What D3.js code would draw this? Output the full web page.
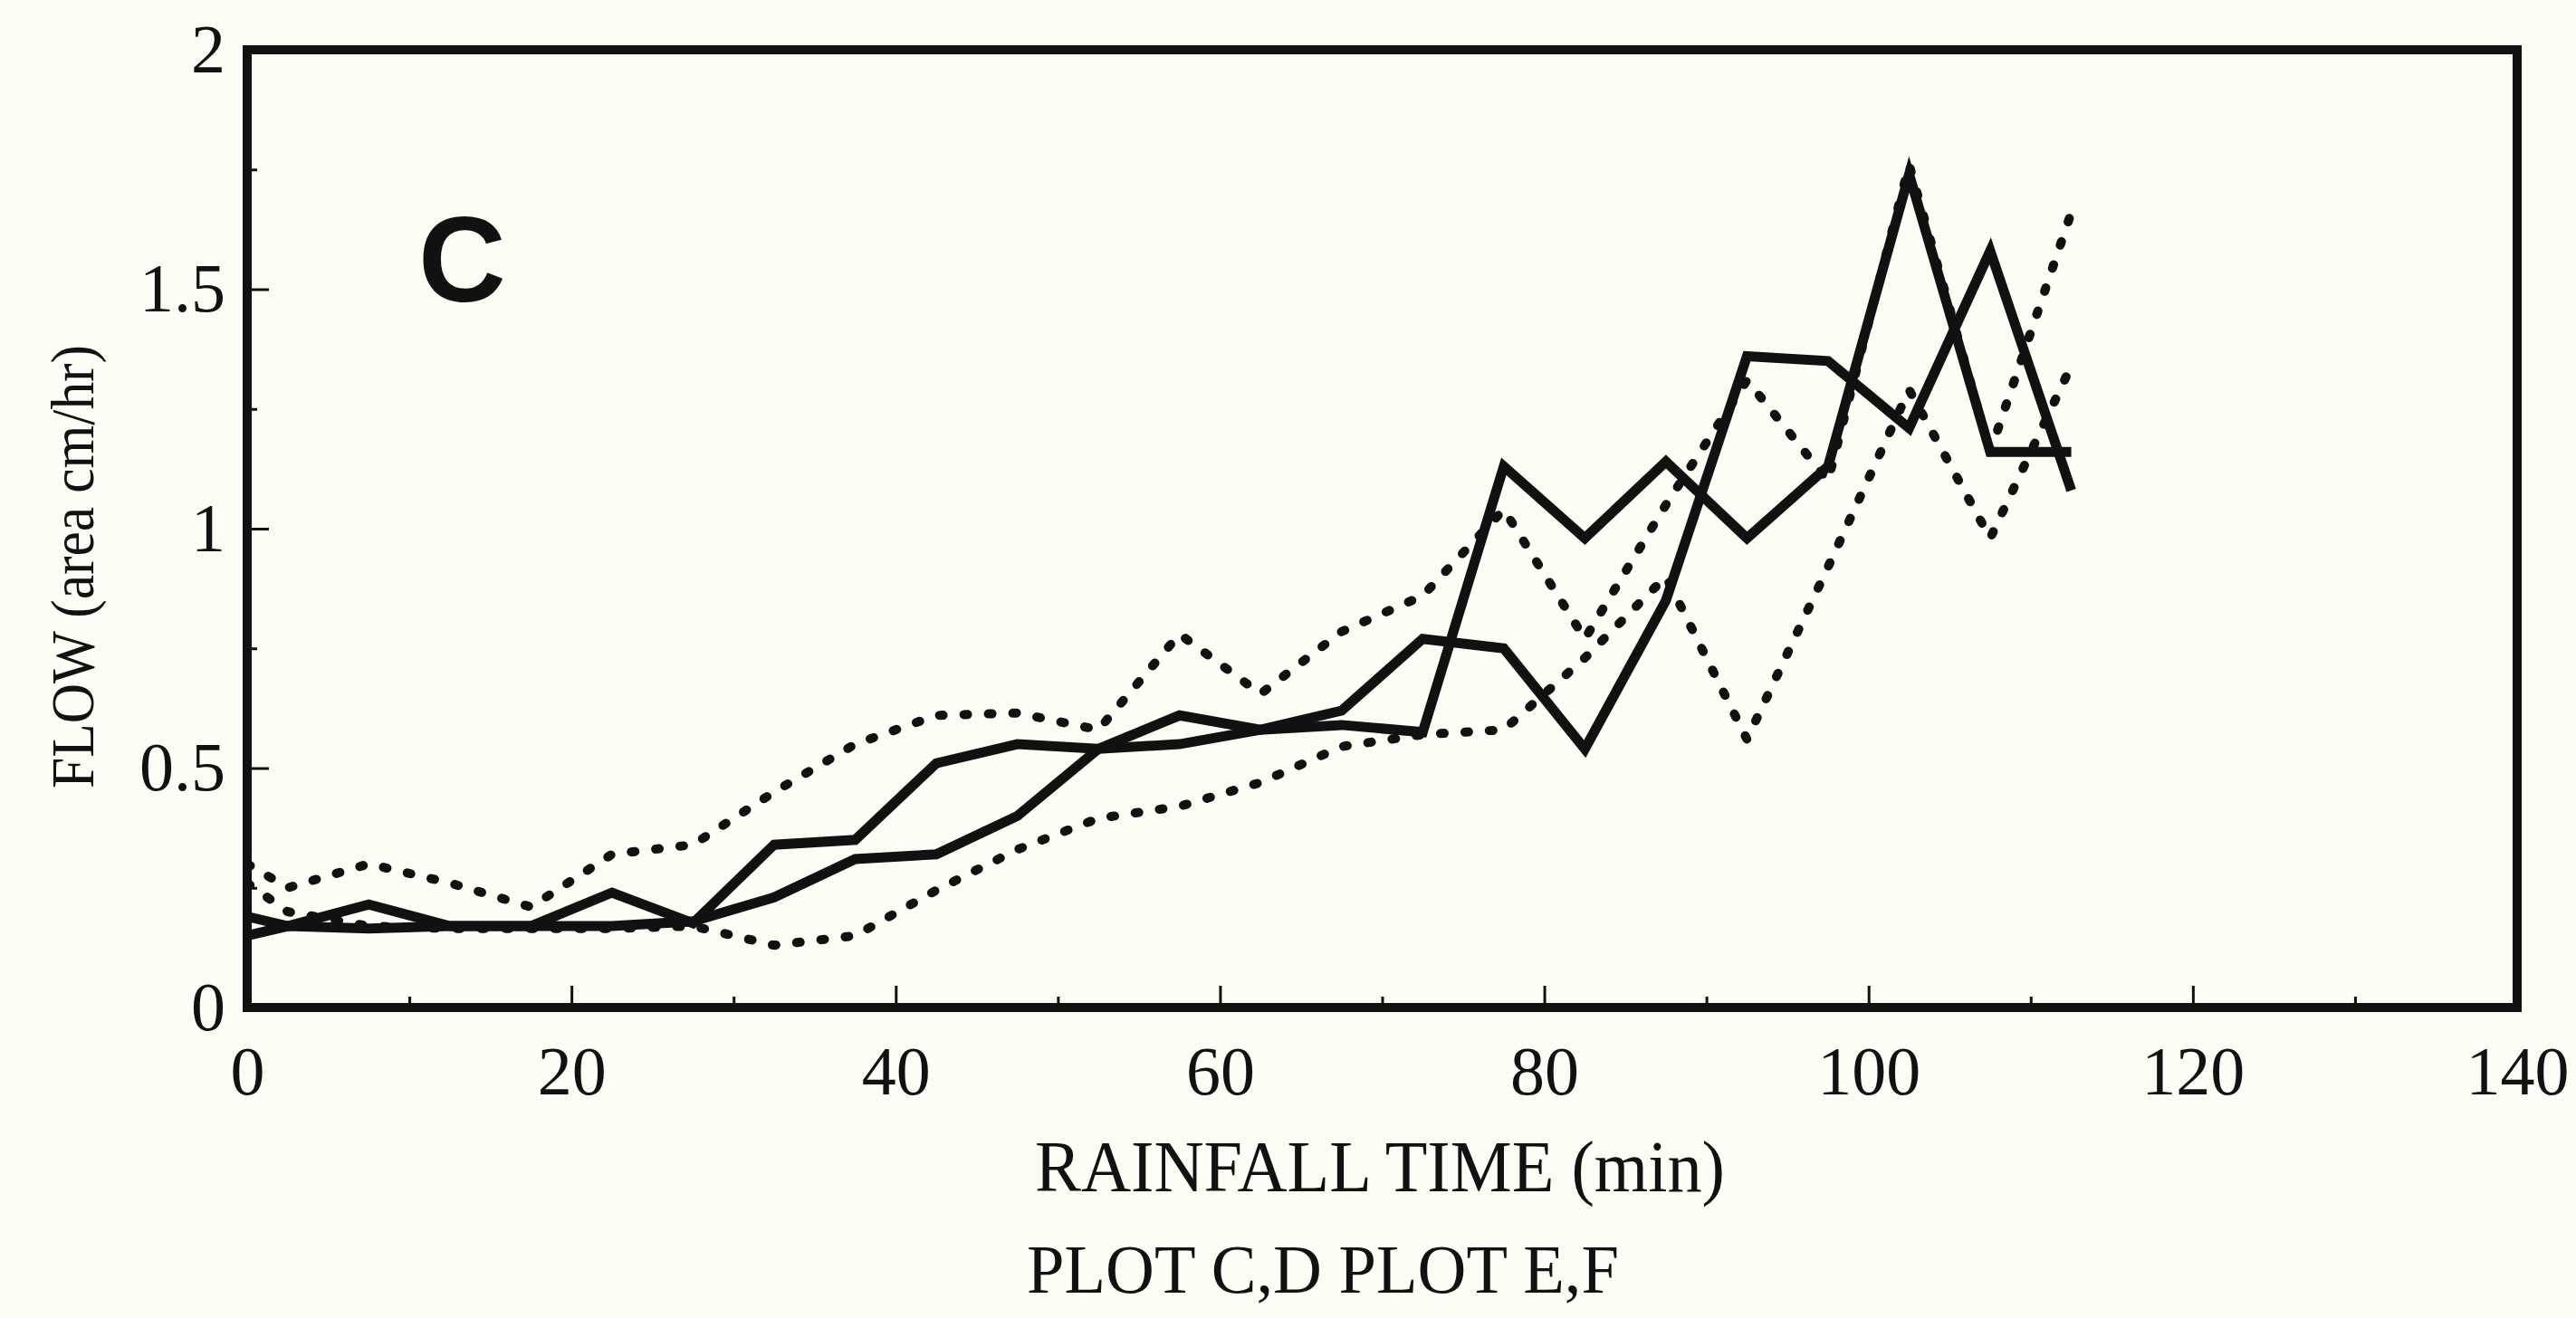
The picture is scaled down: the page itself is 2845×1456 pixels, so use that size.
<!DOCTYPE html>
<html>
<head>
<meta charset="utf-8">
<script src="https://cdn.jsdelivr.net/npm/d3@7"></script>
<style>
  html, body { margin: 0; padding: 0; background: #fdfdf6; }
  svg { display: block; }
</style>
</head>
<body>
<svg id="chart" width="2845" height="1456"></svg>
<script>
// ---- data ----
const times = [0, 2.5, 7.5, 12.5, 17.5, 22.5, 27.5, 32.5, 37.5, 42.5, 47.5, 52.5,
               57.5, 62.5, 67.5, 72.5, 77.5, 82.5, 87.5, 92.5, 97.5, 102.5, 107.5, 112.5];

const plotC_a = [0.15, 0.17, 0.165, 0.17, 0.17, 0.24, 0.176, 0.34, 0.35, 0.51, 0.55, 0.54,
                 0.55, 0.58, 0.62, 0.77, 0.75, 0.54, 0.85, 1.36, 1.35, 1.21, 1.58, 1.08];
const plotC_b = [0.19, 0.17, 0.215, 0.17, 0.17, 0.17, 0.18, 0.23, 0.31, 0.32, 0.40, 0.54,
                 0.61, 0.58, 0.59, 0.575, 1.13, 0.98, 1.14, 0.98, 1.13, 1.74, 1.16, 1.16];
const plotE_a = [0.30, 0.25, 0.30, 0.26, 0.21, 0.32, 0.34, 0.45, 0.55, 0.61, 0.615, 0.58,
                 0.78, 0.655, 0.785, 0.86, 1.04, 0.77, 1.05, 1.31, 1.10, 1.76, 1.16, 1.66];
const plotE_b = [0.26, 0.20, 0.17, 0.165, 0.165, 0.165, 0.17, 0.13, 0.15, 0.245, 0.33, 0.395,
                 0.42, 0.47, 0.545, 0.57, 0.58, 0.73, 0.90, 0.56, 0.92, 1.29, 0.98, 1.34];

const xMajorTicks = [0, 20, 40, 60, 80, 100, 120, 140];
const xMinorTicks = [10, 30, 50, 70, 90, 110, 130];
const yMajorTicks = [0, 0.5, 1, 1.5, 2];
const yMinorTicks = [0.25, 0.75, 1.25, 1.75];
const yTickLabels = ["0", "0.5", "1", "1.5", "2"];

const panelLabel = "C";
const xTitle = "RAINFALL TIME (min)";
const yTitle = "FLOW (area cm/hr)";
const caption = "PLOT C,D PLOT E,F";

// ---- layout ----
const serif = "'Liberation Serif', 'Times New Roman', serif";
const sans = "'Liberation Sans', Arial, Helvetica, sans-serif";
const ink = "#111";

const svg = d3.select("#chart");
svg.append("rect").attr("width", 2845).attr("height", 1456).attr("fill", "#fdfdf6");

const x = d3.scaleLinear().domain([0, 140]).range([273, 2780]);
const y = d3.scaleLinear().domain([0, 2]).range([1113, 55]);

// minor ticks
svg.append("g")
  .attr("transform", `translate(0,${y(0)})`)
  .call(d3.axisBottom(x).tickValues(xMinorTicks).tickSize(-12).tickFormat(""))
  .call(g => g.select(".domain").remove())
  .call(g => g.selectAll("line").attr("stroke", ink).attr("stroke-width", 3));

svg.append("g")
  .attr("transform", `translate(${x(0)},0)`)
  .call(d3.axisLeft(y).tickValues(yMinorTicks).tickSize(-11).tickFormat(""))
  .call(g => g.select(".domain").remove())
  .call(g => g.selectAll("line").attr("stroke", ink).attr("stroke-width", 3));

// major ticks + labels
svg.append("g")
  .attr("transform", `translate(0,${y(0)})`)
  .call(d3.axisBottom(x).tickValues(xMajorTicks).tickSize(-24).tickPadding(42).tickFormat(d3.format("d")))
  .call(g => g.select(".domain").remove())
  .call(g => g.selectAll("line").attr("stroke", ink).attr("stroke-width", 3))
  .call(g => g.selectAll("text").attr("fill", ink).attr("font-family", serif).attr("font-size", 76));

svg.append("g")
  .attr("transform", `translate(${x(0)},0)`)
  .call(d3.axisLeft(y).tickValues(yMajorTicks).tickSize(-24).tickPadding(24)
        .tickFormat((d, i) => yTickLabels[i]))
  .call(g => g.select(".domain").remove())
  .call(g => g.selectAll("line").attr("stroke", ink).attr("stroke-width", 3))
  .call(g => g.selectAll("text").attr("fill", ink).attr("font-family", serif).attr("font-size", 76));

// frame
svg.append("rect")
  .attr("x", x(0)).attr("y", y(2))
  .attr("width", x(140) - x(0)).attr("height", y(0) - y(2))
  .attr("fill", "none").attr("stroke", ink).attr("stroke-width", 10);

// series
const line = d3.line().x(d => x(d[0])).y(d => y(d[1]));
const series = [
  { vals: plotE_b, dash: "4 23", width: 10 },
  { vals: plotE_a, dash: "4 23", width: 10 },
  { vals: plotC_b, dash: null, width: 11 },
  { vals: plotC_a, dash: null, width: 11 }
];
series.forEach(s => {
  svg.append("path")
    .datum(times.map((t, i) => [t, s.vals[i]]))
    .attr("d", line)
    .attr("fill", "none")
    .attr("stroke", ink)
    .attr("stroke-width", s.width)
    .attr("stroke-linejoin", s.dash ? "round" : "miter")
    .attr("stroke-linecap", s.dash ? "round" : "butt")
    .attr("stroke-dasharray", s.dash);
});

// panel label
svg.append("text")
  .attr("x", 462).attr("y", 333)
  .attr("font-family", sans).attr("font-weight", "bold").attr("font-size", 134)
  .attr("fill", ink).text(panelLabel);

// axis titles
svg.append("text")
  .attr("x", 1524).attr("y", 1316)
  .attr("text-anchor", "middle")
  .attr("font-family", serif).attr("font-size", 80)
  .attr("textLength", 762).attr("lengthAdjust", "spacingAndGlyphs")
  .attr("fill", ink).text(xTitle);

svg.append("text")
  .attr("transform", "translate(103,626) rotate(-90)")
  .attr("text-anchor", "middle")
  .attr("font-family", serif).attr("font-size", 68)
  .attr("textLength", 490).attr("lengthAdjust", "spacingAndGlyphs")
  .attr("fill", ink).text(yTitle);

svg.append("text")
  .attr("x", 1461).attr("y", 1428)
  .attr("text-anchor", "middle")
  .attr("font-family", serif).attr("font-size", 76)
  .attr("textLength", 654).attr("lengthAdjust", "spacingAndGlyphs")
  .attr("fill", ink).text(caption);
</script>
</body>
</html>
